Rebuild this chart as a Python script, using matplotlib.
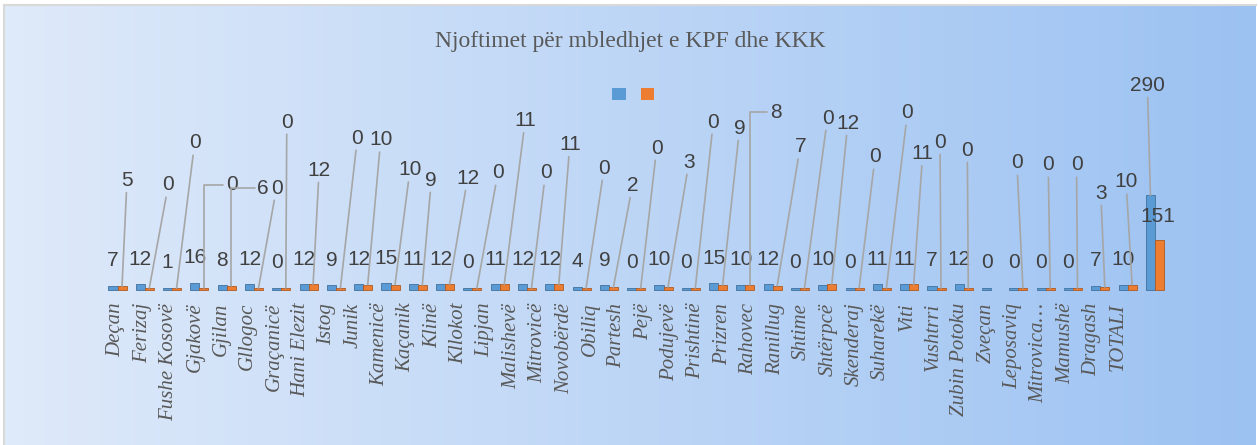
"""Njoftimet për mbledhjet e KPF dhe KKK - grouped bar chart per municipality."""

import matplotlib

matplotlib.use("Agg")
import matplotlib.pyplot as plt
import numpy as np
from matplotlib.colors import LinearSegmentedColormap
from matplotlib.patches import Patch

TITLE = "Njoftimet për mbledhjet e KPF dhe KKK"

categories = [
    "Deçan", "Ferizaj", "Fushe Kosovë", "Gjakovë", "Gjilan", "Gllogoc", "Graçanicë",
    "Hani Elezit", "Istog", "Junik", "Kamenicë", "Kaçanik", "Klinë", "Kllokot",
    "Lipjan", "Malishevë", "Mitrovicë", "Novobërdë", "Obiliq", "Partesh", "Pejë",
    "Podujevë", "Prishtinë", "Prizren", "Rahovec", "Ranillug", "Shtime", "Shtërpcë",
    "Skenderaj", "Suharekë", "Viti", "Vushtrri", "Zubin Potoku", "Zveçan",
    "Leposaviq", "Mitrovica…", "Mamushë", "Dragash", "TOTALI",
]

# blue series (KPF)
kpf = [7, 12, 1, 16, 8, 12, 0, 12, 9, 12, 15, 11, 12, 0, 11, 12, 12, 4, 9, 0,
       10, 0, 15, 10, 12, 0, 10, 0, 11, 11, 7, 12, 0, 0, 0, 0, 7, 10, 290]

# orange series (KKK), no value for Zubin Potoku
kkk = [5, 0, 0, 0, 6, 0, 0, 12, 0, 10, 10, 9, 12, 0, 11, 0, 11, 0, 2, 0,
       3, 0, 9, 8, 7, 0, 12, 0, 0, 11, 0, 0, None, 0, 0, 0, 3, 10, 151]

# label placement for the orange series, offsets in pixels from the bar top
kkk_label_offsets = [
    (5, 106), (19, 103), (18, 145), (28, 103), (32, 98), (18, 100), (1, 166),
    (6, 114), (17, 150), (13, 145), (15, 115), (9, 105), (18, 106), (21, 115),
    (21, 164), (14, 115), (11, 140), (18, 120), (19, 102), (16, 140), (21, 125),
    (18, 166), (17, 157), (26, 173), (23, 139), (23, 170), (16, 161), (16, 131),
    (21, 175), (9, 131), (-1, 146), (-1, 138), None, (-6, 125), (-2, 123),
    (-1, 123), (-4, 94), (-6, 103), (-2, 23),
]
bracket_labels = {3, 4, 23}

BLUE, BLUE_EDGE = "#5b9bd5", "#41719c"
ORANGE, ORANGE_EDGE = "#ed7d31", "#ae5a21"
LEADER = "#a6a6a6"
LABEL_COLOR = "#404040"
TEXT_GRAY = "#595959"
DEPTH = 7  # fake 3D slab under every bar, in value units

W, H = 1258, 445


def fx(px):
    return px / W


def fy(py):
    return 1 - py / H


fig = plt.figure(figsize=(W / 100, H / 100), dpi=100)

# gradient chart background
bg = fig.add_axes([fx(4), 0, fx(1256) - fx(4), fy(5)], zorder=0)
cmap = LinearSegmentedColormap.from_list("bg", ["#dfeafa", "#9cc2f2"])
bg.imshow(np.linspace(0, 1, 256).reshape(1, -1), aspect="auto", cmap=cmap,
          extent=[0, 1, 0, 1])
bg.set_xticks([])
bg.set_yticks([])
for side in ["right", "bottom"]:
    bg.spines[side].set_visible(False)
for side in ["left", "top"]:
    bg.spines[side].set_color("#d9d9d9")
    bg.spines[side].set_linewidth(1.5)

# plot area
n = len(categories)
x = np.arange(n)
ax = fig.add_axes([fx(103.85), fy(288), fx(1064.7), 192 / H], zorder=2)
ax.set_xlim(-0.5, n - 0.5)
ax.set_ylim(0, 600)
ax.axis("off")

kpf_vals = np.array(kpf, dtype=float)
kkk_vals = np.array([np.nan if v is None else v for v in kkk], dtype=float)
bw = 0.33
ax.bar(x - bw / 2, kpf_vals + DEPTH, bottom=-DEPTH, width=bw, color=BLUE,
       edgecolor=BLUE_EDGE, linewidth=0.6, clip_on=False)
ax.bar(x + bw / 2, kkk_vals + DEPTH, bottom=-DEPTH, width=bw, color=ORANGE,
       edgecolor=ORANGE_EDGE, linewidth=0.6, clip_on=False)

num_font = dict(fontfamily="Liberation Sans", fontsize=15, color=LABEL_COLOR,
                ha="center", va="center", annotation_clip=False)
leader = dict(arrowstyle="-", color=LEADER, lw=1.2, shrinkA=0, shrinkB=0)

# blue labels sit just above the bars; the total one is lifted with a leader
for i, v in enumerate(kpf):
    if i == n - 1:
        ax.annotate(str(v), (x[i] - bw / 2, v), xytext=(-3, 110),
                    textcoords="offset pixels", arrowprops=leader, **num_font)
    else:
        ax.annotate(str(v), (x[i] - bw / 2, v), xytext=(0, 25),
                    textcoords="offset pixels", **num_font)

# orange labels with leader lines
for i, v in enumerate(kkk):
    off = kkk_label_offsets[i]
    if v is None or off is None:
        continue
    if i == n - 1:
        ax.annotate(str(v), (x[i] + bw / 2, v), xytext=off,
                    textcoords="offset pixels", **num_font)
    elif i in bracket_labels:
        arrow = dict(leader, relpos=(0, 0.5),
                     connectionstyle="angle,angleA=180,angleB=90,rad=0")
        ax.annotate(str(v), (x[i] + bw / 2, v), xytext=off,
                    textcoords="offset pixels", arrowprops=arrow, **num_font)
    else:
        ax.annotate(str(v), (x[i] + bw / 2, v), xytext=off,
                    textcoords="offset pixels", arrowprops=leader, **num_font)

# category labels (drawn a little narrower than the bars, like the source)
lab = fig.add_axes([fx(102.8), fy(300), fx(1028.4), 0.0001], zorder=1)
lab.set_xlim(-0.5, n - 0.5)
lab.set_xticks(x)
lab.set_xticklabels(categories, rotation=90, fontfamily="Liberation Serif",
                    fontstyle="italic", fontsize=15, color=TEXT_GRAY)
lab.tick_params(length=0, pad=2)
lab.set_yticks([])
lab.patch.set_visible(False)
for s in lab.spines.values():
    s.set_visible(False)

fig.text(fx(630), fy(42), TITLE, ha="center", va="center",
         fontfamily="Liberation Serif", fontsize=17, color=TEXT_GRAY)

handles = [Patch(facecolor=BLUE), Patch(facecolor=ORANGE)]
fig.legend(handles, ["", ""], loc="center", bbox_to_anchor=(fx(633), fy(94.5)),
           ncol=2, frameon=False, fontsize=10, handlelength=0.94,
           handleheight=0.94, handletextpad=0, columnspacing=1.08,
           borderpad=0, borderaxespad=0)

fig.savefig("out.png", dpi=100)
